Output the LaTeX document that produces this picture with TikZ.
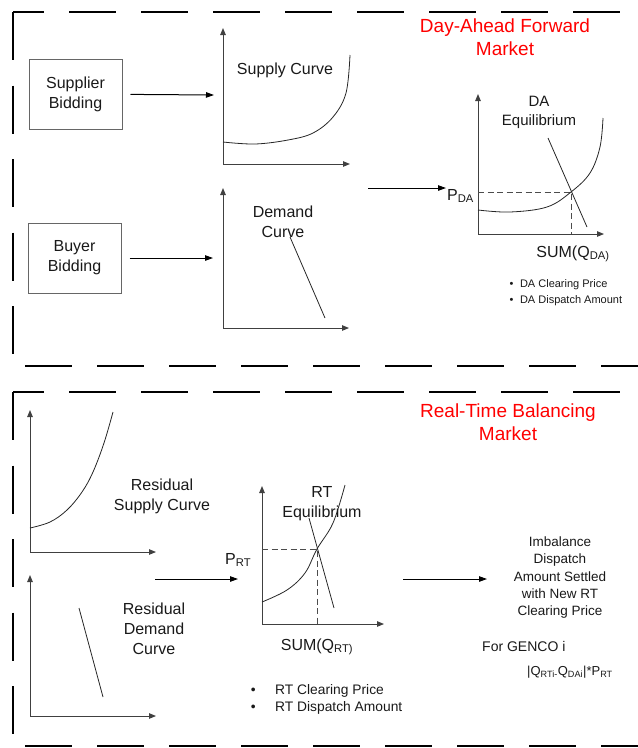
\documentclass[tikz,border=0pt]{standalone}
\usepackage{fontspec}
\setmainfont{Liberation Sans}
\usetikzlibrary{arrows.meta}
\begin{document}
\begin{tikzpicture}[x=1pt,y=-1pt,
  frameh/.style={line width=2.8pt, dash pattern=on 47pt off 25pt},
  framev/.style={line width=2.8pt, dash pattern=on 48pt off 25.5pt},
  bidbox/.style={draw=black!60, line width=1pt, minimum width=93pt, minimum height=70pt, align=center, font=\fontsize{16}{20}\selectfont, text=black!90},
  axis/.style={draw=black!75, line width=1pt, -{Triangle[length=7pt,width=5.5pt]}},
  flow/.style={draw=black, line width=1pt, -{Triangle[length=8pt,width=5.5pt]}},
  curve/.style={draw=black!85, line width=0.8pt},
  guide/.style={draw=black!70, line width=0.9pt, dash pattern=on 6pt off 3.5pt},
  lbl/.style={align=center, inner sep=0pt, text=black!90, font=\fontsize{16}{20}\selectfont},
  small/.style={align=left, inner sep=0pt, text=black!90, font=\fontsize{13.5}{16.5}\selectfont},
  bul/.style={align=left, inner sep=0pt, text=black!90, font=\fontsize{13.8}{17}\selectfont},
  ttl/.style={align=center, inner sep=0pt, text=red, font=\fontsize{19}{23}\selectfont}
]
\useasboundingbox (0,0) rectangle (638,748);

% ---------- frames ----------
\draw[frameh, dash phase=16pt] (13,12) -- (638,12);
\draw[framev] (13,12) -- (13,354);
\draw[frameh] (25,366) -- (638,366);
\draw[frameh, dash phase=16pt] (13,392) -- (638,392);
\draw[framev] (13,392) -- (13,734);
\draw[frameh] (25,746) -- (638,746);

% ---------- Day-ahead market ----------
\node[ttl] (ttlDA) at (505,37.5) {Day-Ahead Forward\\Market};

\node[bidbox] (sup) at (75.5,94) {Supplier\\Bidding};
\node[bidbox] (buy) at (74.5,258) {Buyer\\Bidding};

% supply graph
\coordinate (sO) at (223,164);
\coordinate (supIn) at (214,95);
\draw[axis] (sO) -- (223,28);
\draw[axis] (sO) -- (350,164);
\draw[curve] plot[smooth, tension=0.6] coordinates {(223,142) (255,144) (288,140) (313,133) (333,117) (346,93) (350,55)};
\node[lbl] (supLbl) at (285,70) {Supply Curve};
\draw[flow, shorten <=8pt] (sup) -- (supIn);

% demand graph
\coordinate (dO) at (223,328);
\coordinate (buyIn) at (213,258);
\draw[axis] (dO) -- (223,188);
\draw[axis] (dO) -- (349,328);
\draw[curve] (290,237) -- (325,318);
\node[lbl] (demLbl) at (283,222) {Demand\\Curve};
\draw[flow, shorten <=8pt] (buy) -- (buyIn);

% to DA equilibrium
\coordinate (daFrom) at (368,188);
\coordinate (daTo) at (446,188);
\draw[flow] (daFrom) -- (daTo);

% DA graph
\coordinate (daO) at (478,234);
\coordinate (daE) at (571,192);
\draw[axis] (daO) -- (478,94);
\draw[axis] (daO) -- (604,234);
\draw[guide] (478,192) -- (daE) -- (571,234);
\draw[curve] plot[smooth, tension=0.6] coordinates {(478,210) (510,212) (547,207) (571,192) (590,173) (600,147) (603,118)};
\draw[curve] (548,138) -- (587,227);
\node[lbl, font=\fontsize{15}{19}\selectfont] (daEq) at (539,112) {DA\\Equilibrium};
\node[lbl, anchor=base west] (pda) at (447,200) {P\textsubscript{DA}};
\node[lbl, anchor=base] (sumda) at (573,257) {SUM(Q\textsubscript{DA)}};
\node[bul, anchor=west, font=\fontsize{11}{16}\selectfont] (daBul) at (509.5,292.5) {\textbullet\hspace{6.5pt}DA Clearing Price\\\textbullet\hspace{6.5pt}DA Dispatch Amount};

% ---------- Real-time market ----------
\node[ttl] (ttlRT) at (508,422) {Real-Time Balancing\\Market};

% residual supply
\coordinate (rsO) at (30,552);
\draw[axis] (rsO) -- (30,410);
\draw[axis] (rsO) -- (156,552);
\draw[curve] plot[smooth, tension=0.6] coordinates {(30,528) (50,522) (67,510) (82,492) (93,472) (104,443) (113,412)};
\node[lbl] (rsLbl) at (162,496) {Residual\\Supply Curve};

% residual demand
\coordinate (rdO) at (30,716);
\draw[axis] (rdO) -- (30,575);
\draw[axis] (rdO) -- (156,716);
\draw[curve] (79,608) -- (103,697);
\node[lbl] (rdLbl) at (154,629) {Residual\\Demand\\Curve};

% arrow to RT graph
\coordinate (rtFrom) at (155,579);
\coordinate (rtTo) at (238,579);
\draw[flow] (rtFrom) -- (rtTo);

% RT graph
\coordinate (rtO) at (262,624);
\coordinate (rtE) at (317,549);
\draw[axis] (rtO) -- (262,486);
\draw[axis] (rtO) -- (384,624);
\draw[guide] (262,549) -- (rtE) -- (317,624);
\draw[curve] plot[smooth, tension=0.6] coordinates {(262,602) (287,590) (305,573) (317,549) (333,523) (345,485)};
\draw[curve] (309,518) -- (334,608);
\node[lbl] (rtEq) at (322,504) {RT\\Equilibrium};
\node[lbl, anchor=base west] (prt) at (225,564) {P\textsubscript{RT}};
\node[lbl, anchor=base] (sumrt) at (317,650) {SUM(Q\textsubscript{RT)}};
\node[bul, anchor=west] (rtBul) at (250.6,699) {\textbullet\hspace{19.6pt}RT Clearing Price\\\textbullet\hspace{19.6pt}RT Dispatch Amount};

% settlement
\coordinate (setFrom) at (403,579);
\coordinate (setTo) at (487,579);
\draw[flow] (setFrom) -- (setTo);
\node[small, align=center, font=\fontsize{13.5}{17.25}\selectfont] (imb) at (560,577.5) {Imbalance\\Dispatch\\Amount Settled\\with New RT\\Clearing Price};
\node[small, anchor=west, font=\fontsize{14}{17}\selectfont] (genco) at (482,646) {For GENCO i};
\node[small, anchor=west, font=\fontsize{13}{16}\selectfont] (form) at (527,672) {|Q\textsubscript{RTi-}Q\textsubscript{DAi}|*P\textsubscript{RT}};
\end{tikzpicture}
\end{document}
